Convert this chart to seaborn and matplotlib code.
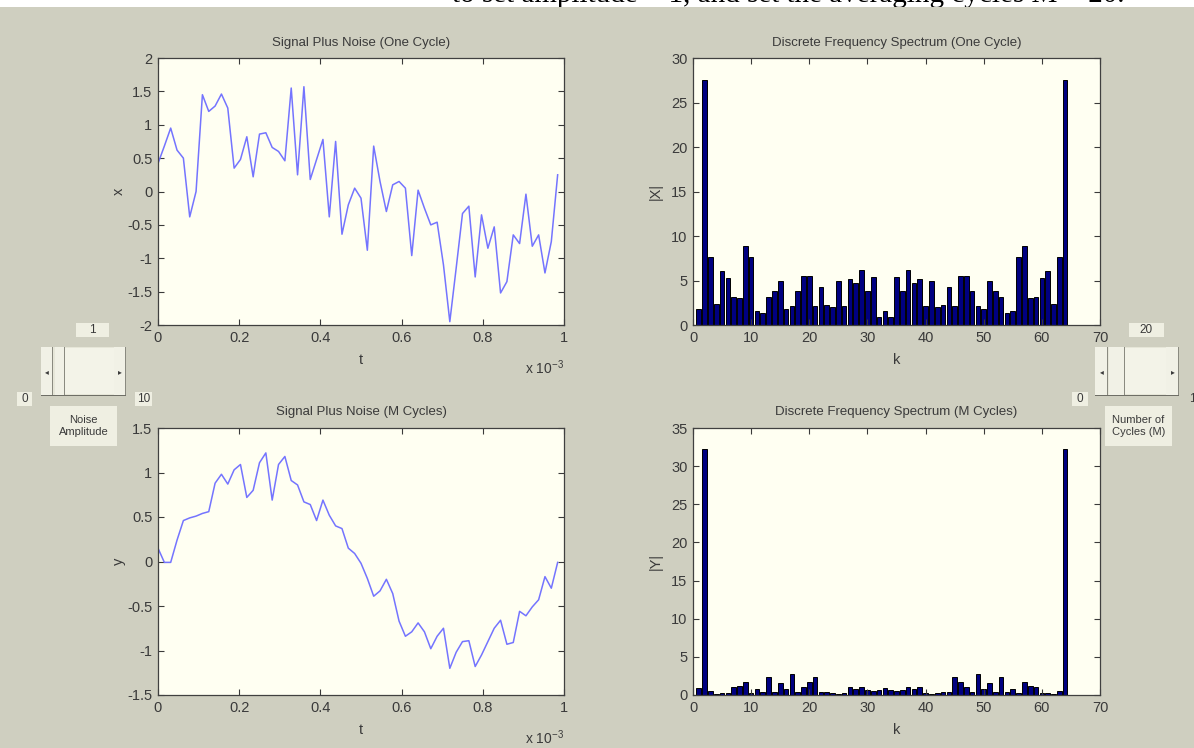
import numpy as np
import pandas as pd
import matplotlib
matplotlib.use("Agg")
import matplotlib.pyplot as plt
from matplotlib.patches import Rectangle
from matplotlib.ticker import FuncFormatter, MultipleLocator
import seaborn as sns

# ---- data -----------------------------------------------------------------
N = 64
t_sec = np.arange(N) / N * 1e-3          # one period of 1 ms, 64 samples
k_idx = np.arange(1, N + 1)              # DFT bin index (1-based)

x_one_cycle = [
    0.42, 0.68, 0.95, 0.62, 0.50, -0.38, 0.00, 1.45, 1.20, 1.28,
    1.46, 1.25, 0.35, 0.48, 0.82, 0.22, 0.86, 0.88, 0.66, 0.60,
    0.46, 1.55, 0.25, 1.57, 0.18, 0.48, 0.78, -0.38, 0.75, -0.64,
    -0.20, 0.05, -0.10, -0.88, 0.68, 0.15, -0.30, 0.10, 0.15, 0.05,
    -0.96, 0.02, -0.25, -0.50, -0.46, -1.10, -1.95, -1.15, -0.33, -0.22,
    -1.28, -0.35, -0.85, -0.53, -1.52, -1.35, -0.65, -0.78, -0.04, -0.82,
    -0.65, -1.22, -0.75, 0.25,
]

X_mag_one = [
    1.75, 27.5, 7.65, 2.4, 6.1, 5.3, 3.2, 3.05, 8.85, 7.65,
    1.6, 1.3, 3.1, 3.85, 4.95, 1.8, 2.15, 3.85, 5.55, 5.55,
    2.15, 4.3, 2.25, 2.05, 4.95, 2.15, 5.2, 4.75, 6.15, 3.85,
    5.35, 0.95, 1.6, 0.95, 5.35, 3.85, 6.15, 4.75, 5.2, 2.15,
    4.95, 2.05, 2.25, 4.3, 2.15, 5.55, 5.55, 3.85, 2.15, 1.8,
    4.95, 3.85, 3.1, 1.3, 1.6, 7.65, 8.85, 3.05, 3.2, 5.3,
    6.1, 2.4, 7.65, 27.5,
]

y_m_cycles = [
    0.15, -0.01, -0.01, 0.24, 0.46, 0.49, 0.51, 0.54, 0.56, 0.88,
    0.98, 0.87, 1.03, 1.09, 0.72, 0.80, 1.11, 1.22, 0.69, 1.09,
    1.18, 0.91, 0.86, 0.67, 0.64, 0.46, 0.69, 0.52, 0.40, 0.37,
    0.15, 0.09, -0.02, -0.19, -0.39, -0.33, -0.20, -0.36, -0.67, -0.84,
    -0.79, -0.69, -0.79, -0.98, -0.84, -0.75, -1.20, -1.02, -0.90, -0.89,
    -1.18, -1.05, -0.90, -0.75, -0.66, -0.93, -0.91, -0.56, -0.61, -0.51,
    -0.43, -0.17, -0.30, -0.01,
]

Y_mag_m = [
    0.9, 32.2, 0.55, 0.15, 0.3, 0.3, 1.1, 1.2, 1.75, 0.2,
    0.85, 0.45, 2.3, 0.45, 1.55, 0.75, 2.7, 0.45, 1.1, 1.75,
    2.3, 0.45, 0.45, 0.3, 0.1, 0.3, 1.1, 0.85, 1.1, 0.6,
    0.5, 0.6, 0.95, 0.6, 0.5, 0.6, 1.1, 0.85, 1.1, 0.3,
    0.1, 0.3, 0.45, 0.45, 2.3, 1.75, 1.1, 0.45, 2.7, 0.75,
    1.55, 0.45, 2.3, 0.45, 0.85, 0.2, 1.75, 1.2, 1.1, 0.3,
    0.3, 0.15, 0.55, 32.2,
]

noise_amplitude = "1"
num_cycles = "20"

# ---- style ------------------------------------------------------------------
W, H = 1194, 748
BG = "#cfcfc0"
AX_BG = "#fffff2"
LINE_C = "#7474ff"
BAR_C = "#000080"
TXT = "#3a3a3a"
UI_FACE = "#efefe2"

FONT = ["Liberation Sans", "DejaVu Sans"]
plt.rcParams["font.family"] = FONT
plt.rcParams["text.color"] = TXT
plt.rcParams["axes.labelcolor"] = TXT
plt.rcParams["xtick.color"] = TXT
plt.rcParams["ytick.color"] = TXT
plt.rcParams["mathtext.fontset"] = "custom"
plt.rcParams["mathtext.rm"] = "Liberation Sans"

fig = plt.figure(figsize=(W / 100, H / 100), dpi=100, facecolor=BG)


def px_rect(x0, y0, x1, y1):
    """Convert a pixel box (top-left origin) to figure-fraction rect."""
    return [x0 / W, 1 - y1 / H, (x1 - x0) / W, (y1 - y0) / H]


def fx(x):
    return x / W


def fy(y):
    return 1 - y / H


def style_axes(ax, xlim, xstep, ylim, ystep):
    ax.set_facecolor(AX_BG)
    ax.set_xlim(*xlim)
    ax.set_ylim(*ylim)
    ax.xaxis.set_major_locator(MultipleLocator(xstep))
    ax.yaxis.set_major_locator(MultipleLocator(ystep))
    ax.tick_params(direction="in", length=4, width=0.8, top=True, right=True,
                   labelsize=10.5, pad=4, colors=TXT)
    for s in ax.spines.values():
        s.set_color("#404040")
        s.set_linewidth(0.9)
    ax.yaxis.set_major_formatter(FuncFormatter(lambda v, p: f"{v:g}"))


def time_axis(ax):
    ax.xaxis.set_major_formatter(FuncFormatter(lambda v, p: f"{v * 1e3:g}"))
    ax.text(1.0, -0.125, r"x 10$^{-3}$", transform=ax.transAxes,
            ha="right", va="top", fontsize=10, color=TXT)


# top-left: noisy signal, one cycle
ax1 = fig.add_axes(px_rect(158, 58, 564, 325))
sns.lineplot(x=t_sec, y=x_one_cycle, ax=ax1, color=LINE_C, lw=1.1,
             estimator=None)
style_axes(ax1, (0, 1e-3), 0.2e-3, (-2, 2), 0.5)
time_axis(ax1)
ax1.set_title("Signal Plus Noise (One Cycle)", fontsize=9.5, pad=9, color=TXT)
ax1.set_xlabel("t", fontsize=10.5, labelpad=6)
ax1.set_ylabel("x", fontsize=10.5, labelpad=1)

# top-right: spectrum, one cycle
ax2 = fig.add_axes(px_rect(693, 58, 1100, 325))
sns.barplot(x=k_idx, y=X_mag_one, ax=ax2, native_scale=True, width=0.8,
            color=BAR_C, saturation=1, edgecolor="black", linewidth=0.7,
            errorbar=None)
style_axes(ax2, (0, 70), 10, (0, 30), 5)
ax2.xaxis.set_major_formatter(FuncFormatter(lambda v, p: f"{v:g}"))
ax2.set_title("Discrete Frequency Spectrum (One Cycle)", fontsize=9.5, pad=9,
              color=TXT)
ax2.set_xlabel("k", fontsize=10.5, labelpad=6)
ax2.set_ylabel("|X|", fontsize=10.5, labelpad=6)

# bottom-left: averaged signal, M cycles
ax3 = fig.add_axes(px_rect(158, 428, 564, 695))
sns.lineplot(x=t_sec, y=y_m_cycles, ax=ax3, color=LINE_C, lw=1.1,
             estimator=None)
style_axes(ax3, (0, 1e-3), 0.2e-3, (-1.5, 1.5), 0.5)
time_axis(ax3)
ax3.set_title("Signal Plus Noise (M Cycles)", fontsize=9.5, pad=9, color=TXT)
ax3.set_xlabel("t", fontsize=10.5, labelpad=6)
ax3.set_ylabel("y", fontsize=10.5, labelpad=1)

# bottom-right: spectrum, M cycles
ax4 = fig.add_axes(px_rect(693, 428, 1100, 695))
sns.barplot(x=k_idx, y=Y_mag_m, ax=ax4, native_scale=True, width=0.8,
            color=BAR_C, saturation=1, edgecolor="black", linewidth=0.7,
            errorbar=None)
style_axes(ax4, (0, 70), 10, (0, 35), 5)
ax4.xaxis.set_major_formatter(FuncFormatter(lambda v, p: f"{v:g}"))
ax4.set_title("Discrete Frequency Spectrum (M Cycles)", fontsize=9.5, pad=9,
              color=TXT)
ax4.set_xlabel("k", fontsize=10.5, labelpad=6)
ax4.set_ylabel("|Y|", fontsize=10.5, labelpad=6)


# ---- UI controls ---------------------------------------------------------------
def box(x0, y0, x1, y1, face=UI_FACE, edge=None, lw=0.0, z=1):
    r = Rectangle((fx(x0), fy(y1)), fx(x1) - fx(x0), fy(y0) - fy(y1),
                  transform=fig.transFigure, facecolor=face,
                  edgecolor=edge if edge else face, linewidth=lw, zorder=z)
    fig.patches.append(r)
    return r


def label(x, y, s, size=8.5, **kw):
    return fig.text(fx(x), fy(y), s, ha="center", va="center", fontsize=size,
                    color=TXT, **kw)


def slider(x0, y0, x1, y1, thumb0, thumb1, arrow_w):
    box(x0, y0, x1, y1, face="#e6e6d8")
    # trough
    box(thumb1, y0 + 1, x1 - arrow_w, y1 - 2, face="#f3f3e8")
    # arrow buttons and thumb with bevel shadows
    for a, b in [(x0, x0 + arrow_w), (thumb0, thumb1), (x1 - arrow_w, x1)]:
        box(a, y0, b, y1 - 1, face="#f1f1e6", z=2)
        box(b - 1.2, y0, b, y1, face="#8a8a80", z=3)
        box(a, y1 - 1.5, b, y1, face="#8a8a80", z=3)
    box(x0, y1 - 1.5, x1, y1, face="#6e6e66", z=3)
    label(x0 + arrow_w / 2, (y0 + y1) / 2, "◂", size=5.5, family="DejaVu Sans")
    label(x1 - arrow_w / 2, (y0 + y1) / 2, "▸", size=5.5, family="DejaVu Sans")


# noise amplitude control
box(76, 323, 109, 337)
label(92, 330, noise_amplitude)
slider(41, 347, 126, 396, 55, 65, 12)
box(17, 392, 32, 406)
label(24.5, 399, "0")
box(135, 392, 152, 406)
label(143.5, 399, "10")
box(50, 406, 117, 446)
label(83.5, 426, "Noise\nAmplitude", size=8, linespacing=1.25)

# number of cycles control
box(1129, 323, 1164, 337)
label(1146.5, 330, num_cycles)
slider(1095, 347, 1179, 396, 1109, 1125, 13)
box(1072, 392, 1088, 406)
label(1080, 399, "0")
fig.text(fx(1189), fy(399), "100", ha="left", va="center", fontsize=8.5,
         color=TXT)
box(1105, 406, 1172, 446)
label(1138.5, 426, "Number of\nCycles (M)", size=8, linespacing=1.25)

# page strip above the window; the sentence runs past its top edge
strip = box(0, 0, W, 7, face="white", z=5)
page_txt = fig.text(fx(452), fy(1.5),
                    "to set amplitude = 1, and set the averaging cycles M = 20.",
                    ha="left", va="baseline", fontsize=21, color="black",
                    family=["Liberation Serif", "DejaVu Serif"], zorder=6)
page_txt.set_clip_path(strip)

fig.savefig("out.png", dpi=100, facecolor=BG)
